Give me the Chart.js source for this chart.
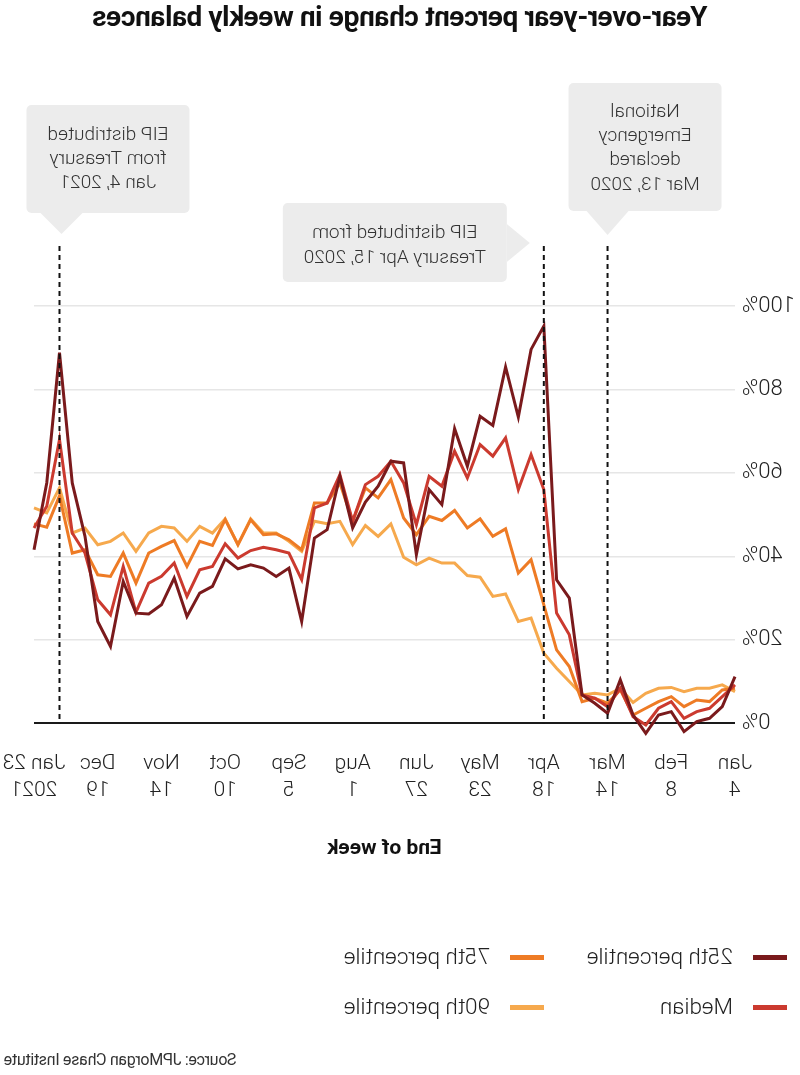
<!DOCTYPE html>
<html lang="en">
  <head>
    <meta charset="UTF-8" />
    <title>Year-over-year percent change in weekly balances</title>
    <meta name="viewport" content="width=device-width, initial-scale=1.0" />
    <script src="https://cdn.jsdelivr.net/npm/chart.js@4"></script>
    <style>
      body {
        margin: 0;
        background: #fff;
      }
      /* the reference picture is a mirror image, so the whole page is flipped */
      #page {
        position: relative;
        width: 800px;
        height: 1075px;
        overflow: hidden;
        transform: scaleX(-1);
        color: #222;
        font-family: Roboto, "Liberation Sans", sans-serif;
      }
      #title {
        position: absolute;
        top: 2px;
        left: 0;
        width: 800px;
        text-align: center;
        font: bold 28px/30px Roboto, "Liberation Sans", sans-serif;
        letter-spacing: -0.4px;
        color: #111;
      }
      #chart {
        position: absolute;
        top: 0;
        left: 0;
      }
      .key {
        position: absolute;
        height: 30px;
        line-height: 30px;
        font-size: 22.5px;
        font-weight: 300;
        white-space: nowrap;
      }
      .key i {
        display: inline-block;
        width: 34px;
        height: 5px;
        vertical-align: middle;
        margin-right: 20px;
        position: relative;
        top: -1px;
      }
      #source {
        position: absolute;
        right: 4px;
        top: 1048px;
        font: 16px/24px Roboto, sans-serif;
        letter-spacing: -0.3px;
        color: #333;
      }
    </style>
  </head>
  <body>
    <div id="page">
      <div id="title">Year-over-year percent change in weekly balances</div>
      <canvas id="chart" width="800" height="880"></canvas>
      <div class="key" style="left: 13px; top: 941px"><i style="background: #7a1a1c"></i>25th percentile</div>
      <div class="key" style="left: 256px; top: 941px"><i style="background: #ee7b25"></i>75th percentile</div>
      <div class="key" style="left: 13px; top: 991px"><i style="background: #cb3a2f"></i>Median</div>
      <div class="key" style="left: 256px; top: 991px"><i style="background: #f6a94d"></i>90th percentile</div>
      <div id="source">Source: JPMorgan Chase Institute</div>
    </div>

    <script>
      // week ending dates, Jan 4 2020 .. Jan 23 2021
      const weeks = [
        "Jan 4", "Jan 11", "Jan 18", "Jan 25", "Feb 1", "Feb 8", "Feb 15", "Feb 22", "Feb 29",
        "Mar 7", "Mar 14", "Mar 21", "Mar 28", "Apr 4", "Apr 11", "Apr 18", "Apr 25",
        "May 2", "May 9", "May 16", "May 23", "May 30", "Jun 6", "Jun 13", "Jun 20", "Jun 27",
        "Jul 4", "Jul 11", "Jul 18", "Jul 25", "Aug 1", "Aug 8", "Aug 15", "Aug 22", "Aug 29",
        "Sep 5", "Sep 12", "Sep 19", "Sep 26", "Oct 3", "Oct 10", "Oct 17", "Oct 24", "Oct 31",
        "Nov 7", "Nov 14", "Nov 21", "Nov 28", "Dec 5", "Dec 12", "Dec 19", "Dec 26",
        "Jan 2 2021", "Jan 9 2021", "Jan 16 2021", "Jan 23 2021"
      ];

      // labels shown on the axis (every fifth week)
      const tickLabels = [
        ["Jan", "4"], ["Feb", "8"], ["Mar", "14"], ["Apr", "18"], ["May", "23"], ["Jun", "27"],
        ["Aug", "1"], ["Sep", "5"], ["Oct", "10"], ["Nov", "14"], ["Dec", "19"], ["Jan 23", "2021"]
      ];

      const p25 = [
        11.2, 4, 1.2, 0.4, -2, 2.8, 2, -2.4, 2, 10.4, 2.4, 4.8, 6.8, 30, 34.4, 95.2,
        89.6, 73.4, 85.4, 71.4, 73.6, 61.6, 70.6, 52.4, 56, 40.4, 62.4, 62.8, 56.8, 53,
        46.8, 59.2, 46.4, 44.4, 24.4, 37.2, 35.2, 37.2, 38, 37, 39.4, 32.8, 31.2, 25.6,
        34.8, 28.4, 26.2, 26.4, 34, 18.4, 24.4, 44.8, 57.6, 88.8, 57.6, 41.6
      ];
      const median = [
        9.2, 6.4, 3.6, 2.8, 1.2, 5.2, 3.6, -0.4, 1.6, 8.4, 4, 6, 6.8, 21.2, 26.4, 56,
        64.4, 56, 68.4, 64, 66.8, 58.8, 65.2, 56.8, 59.2, 47.6, 57.6, 62.8, 59.2, 57.2,
        48.4, 59.6, 52.8, 51.6, 34.4, 40.8, 41.6, 42.2, 41.4, 39.6, 43, 37.6, 36.8, 30.4,
        38.4, 35.2, 33.6, 26.6, 37.6, 26, 29.6, 40.8, 45.6, 68, 52, 46.8
      ];
      const p75 = [
        8.4, 8, 5.2, 5.6, 4, 6.4, 5.2, 3.6, 2, 8, 4.8, 6, 5.2, 13.6, 17.6, 28.4,
        39.2, 36, 46.6, 44.8, 49, 46.8, 51, 48.6, 49.6, 45.2, 49.2, 58.4, 54, 56.4,
        48.4, 57.6, 52.8, 52.8, 41.6, 44, 45.4, 45.2, 48.8, 42.8, 48.8, 42.6, 43.6, 37.6,
        43.8, 42.4, 40.8, 33.6, 40.8, 35.2, 35.6, 41.6, 40.8, 54.5, 47, 47.8
      ];
      const p90 = [
        7.6, 9.2, 8.4, 8.4, 7.6, 8.6, 8.4, 7.2, 5, 8.4, 6.8, 7.2, 6.8, 10, 13.2, 16.8,
        25.2, 24.4, 31, 30.4, 35, 35.4, 38.4, 38.4, 39.6, 38, 39.8, 47.8, 44.8, 47.4,
        42.8, 48.4, 47.8, 48.4, 41.2, 43.6, 45.6, 45.6, 49, 42.8, 49, 45.6, 47.2, 43.6,
        46.8, 47.2, 45.6, 41.2, 45.6, 43.6, 42.8, 46.8, 45.6, 56.4, 50.4, 51.6
      ];

      // events marked with a dashed line (week index) and their notes
      const eventWeeks = [53, 15, 10];
      const eventNotes = [
        ["EIP distributed", "from Treasury", "Jan 4, 2021"],
        ["EIP distributed from", "Treasury Apr 15, 2020"],
        ["National", "Emergency", "declared", "Mar 13, 2020"]
      ];

      const eventPlugin = {
        id: "events",
        afterDatasetsDraw(chart) {
          const { ctx, chartArea } = chart;
          const x = chart.scales.x;
          // box geometry relative to the event line
          const boxes = [
            { l: -130, r: 33, t: 105, b: 213, dir: "down", px: -2, py: 234, ty: 135, lh: 24 },
            { l: 37, r: 261, t: 203, b: 282, dir: "left", px: 14, py: 243, ty: 233, lh: 25 },
            { l: -114, r: 39, t: 83, b: 211, dir: "down", px: 0, py: 235, ty: 112, lh: 24.3 }
          ];
          ctx.save();
          eventWeeks.forEach((w, k) => {
            const lx = x.getPixelForValue(w);
            const bx = boxes[k];

            // dashed line
            ctx.beginPath();
            ctx.setLineDash([5, 4]);
            ctx.lineWidth = 2;
            ctx.strokeStyle = "#111";
            ctx.moveTo(lx, 246);
            ctx.lineTo(lx, chartArea.bottom);
            ctx.stroke();
            ctx.setLineDash([]);

            // note box with pointer
            ctx.fillStyle = "#ececec";
            ctx.beginPath();
            ctx.roundRect(lx + bx.l, bx.t, bx.r - bx.l, bx.b - bx.t, 5);
            ctx.fill();
            ctx.beginPath();
            if (bx.dir === "down") {
              ctx.moveTo(lx + bx.px - 21, bx.b);
              ctx.lineTo(lx + bx.px + 21, bx.b);
              ctx.lineTo(lx + bx.px, bx.py);
            } else {
              ctx.moveTo(lx + bx.l, bx.py - 19);
              ctx.lineTo(lx + bx.l, bx.py + 19);
              ctx.lineTo(lx + bx.px, bx.py);
            }
            ctx.closePath();
            ctx.fill();

            ctx.fillStyle = "#333";
            ctx.font = "300 19px Roboto, sans-serif";
            ctx.textAlign = "center";
            ctx.textBaseline = "middle";
            const cx = lx + (bx.l + bx.r) / 2;
            eventNotes[k].forEach((line, j) => {
              ctx.fillText(line, cx, bx.ty + j * bx.lh);
            });
          });
          ctx.restore();
        }
      };

      const ctx = document.getElementById("chart").getContext("2d");
      new Chart(ctx, {
        type: "line",
        data: {
          labels: weeks,
          datasets: [
            { label: "25th percentile", data: p25, borderColor: "#7a1a1c" },
            { label: "Median", data: median, borderColor: "#cb3a2f" },
            { label: "75th percentile", data: p75, borderColor: "#ee7b25" },
            { label: "90th percentile", data: p90, borderColor: "#f6a94d" }
          ]
        },
        options: {
          responsive: false,
          animation: false,
          clip: false,
          elements: {
            line: { borderWidth: 3, tension: 0, borderJoinStyle: "miter" },
            point: { radius: 0 }
          },
          layout: { padding: { top: 306, right: 34, bottom: 0, left: 0 } },
          plugins: {
            legend: { display: false },
            tooltip: { enabled: false }
          },
          scales: {
            x: {
              // invisible tick marks push the labels down without widening the right padding
              grid: {
                display: true,
                drawOnChartArea: false,
                drawTicks: true,
                tickLength: 26,
                tickColor: "rgba(0,0,0,0)"
              },
              border: { display: false },
              ticks: {
                autoSkip: false,
                maxRotation: 0,
                minRotation: 0,
                padding: 0,
                color: "#222",
                font: { family: "Roboto", size: 21, weight: 300, lineHeight: 1.33 },
                callback: (v, i) => (i % 5 === 0 ? tickLabels[i / 5] : "")
              },
              title: {
                display: true,
                text: "End of week",
                color: "#111",
                font: { family: "Roboto", size: 21, weight: "bold" },
                padding: { top: 0, bottom: 19 }
              },
              afterFit: (s) => {
                s.height = 156.7;
              }
            },
            y: {
              min: 0,
              max: 100,
              border: { display: false },
              grid: {
                drawTicks: false,
                color: (c) => (c.tick.value === 0 ? "#1a1a1a" : "#e6e6e6"),
                lineWidth: (c) => (c.tick.value === 0 ? 2 : 1.5)
              },
              ticks: {
                stepSize: 20,
                padding: 7,
                color: "#222",
                font: { family: "Roboto", size: 22, weight: 300 },
                callback: (v) => v + "%"
              },
              afterFit: (s) => {
                s.width = 65;
              }
            }
          }
        },
        plugins: [eventPlugin]
      });
    </script>
  </body>
</html>
